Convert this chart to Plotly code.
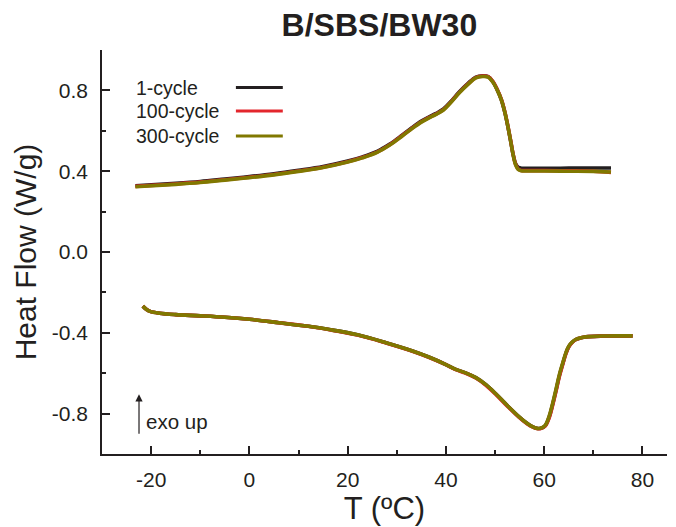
import plotly.graph_objects as go

# ---------------- data ----------------
series_names = ["1-cycle", "100-cycle", "300-cycle"]
series_colors = ["#231f20", "#e3262d", "#807800"]

# heating branch (upper curve)
heat_T = [-23.2, -15, -10, -5, 0, 5, 10, 15, 20, 23, 26, 28.5, 31, 33, 35, 36.5,
          38, 39.5, 41, 42.7, 44.5, 46.1, 47.5, 48.6, 49.5, 50.5, 51.3, 52.0,
          52.6, 53.2, 53.7, 54.2, 54.7, 55.3, 56.5, 60, 65, 70, 73.6]
heat_1 = [0.328, 0.340, 0.349, 0.361, 0.373, 0.387, 0.404, 0.423, 0.450, 0.471,
          0.498, 0.533, 0.577, 0.614, 0.648, 0.668, 0.686, 0.708, 0.745, 0.792,
          0.835, 0.866, 0.872, 0.868, 0.845, 0.800, 0.752, 0.690, 0.622, 0.545,
          0.480, 0.437, 0.420, 0.415, 0.414, 0.414, 0.415, 0.416, 0.416]
heat_100 = [0.325, 0.337, 0.346, 0.358, 0.370, 0.384, 0.401, 0.420, 0.447, 0.468,
            0.495, 0.530, 0.574, 0.611, 0.645, 0.665, 0.683, 0.705, 0.742, 0.789,
            0.832, 0.863, 0.871, 0.868, 0.846, 0.802, 0.755, 0.694, 0.626, 0.549,
            0.482, 0.433, 0.411, 0.404, 0.403, 0.403, 0.402, 0.400, 0.394]
heat_300 = [0.323, 0.335, 0.344, 0.356, 0.368, 0.382, 0.399, 0.418, 0.445, 0.466,
            0.493, 0.528, 0.572, 0.609, 0.643, 0.663, 0.681, 0.703, 0.740, 0.787,
            0.830, 0.862, 0.869, 0.866, 0.843, 0.799, 0.752, 0.691, 0.623, 0.546,
            0.479, 0.430, 0.409, 0.402, 0.401, 0.401, 0.400, 0.399, 0.396]

# cooling branch (lower curve)
cool_T = [-21.7, -21.0, -20.2, -18.3, -15, -10, -5, 0, 6, 12, 16.3, 22, 27.8,
          33.2, 36.5, 40, 42, 44, 46.1, 48.2, 50.2, 52.5, 54.9, 56.5, 57.6, 58.5,
          59.3, 60.2, 61.0, 61.7, 62.4, 63.1, 63.8, 64.4, 65.0, 65.7, 66.5, 67.5,
          68.5, 72, 75, 78]
cool_1 = [-0.268, -0.283, -0.294, -0.303, -0.310, -0.316, -0.323, -0.333, -0.350,
          -0.368, -0.384, -0.410, -0.449, -0.490, -0.520, -0.557, -0.581, -0.598,
          -0.622, -0.658, -0.703, -0.760, -0.816, -0.848, -0.865, -0.873, -0.873,
          -0.860, -0.818, -0.757, -0.686, -0.612, -0.552, -0.503, -0.469, -0.447,
          -0.433, -0.425, -0.420, -0.416, -0.415, -0.415]
cool_100 = [-0.268, -0.283, -0.294, -0.303, -0.310, -0.316, -0.323, -0.333, -0.350,
            -0.368, -0.385, -0.411, -0.450, -0.491, -0.521, -0.558, -0.582, -0.600,
            -0.624, -0.661, -0.706, -0.763, -0.819, -0.850, -0.866, -0.874, -0.874,
            -0.862, -0.822, -0.761, -0.690, -0.616, -0.555, -0.505, -0.470, -0.448,
            -0.433, -0.425, -0.420, -0.416, -0.415, -0.415]
cool_300 = [-0.268, -0.283, -0.294, -0.303, -0.310, -0.316, -0.323, -0.333, -0.350,
            -0.368, -0.384, -0.410, -0.449, -0.490, -0.520, -0.557, -0.581, -0.598,
            -0.622, -0.658, -0.703, -0.760, -0.816, -0.848, -0.865, -0.873, -0.872,
            -0.858, -0.813, -0.751, -0.680, -0.606, -0.547, -0.500, -0.466, -0.446,
            -0.432, -0.424, -0.420, -0.416, -0.415, -0.415]

x_tickvals = [-20, 0, 20, 40, 60, 80]
x_ticktext = ["-20", "0", "20", "40", "60", "80"]
x_minorvals = [-30, -10, 10, 30, 50, 70]
y_tickvals = [-0.8, -0.4, 0.0, 0.4, 0.8]
y_ticktext = ["-0.8", "-0.4", "0.0", "0.4", "0.8"]
y_minorvals = [-1.0, -0.6, -0.2, 0.2, 0.6, 1.0]

title_text = "B/SBS/BW30"
x_title = "T (ºC)"
y_title = "Heat Flow (W/g)"

# ---------------- figure ----------------
FONT = "Liberation Sans, Arial, sans-serif"
AX = "#231f20"

fig = go.Figure()
heat_sets = [heat_1, heat_100, heat_300]
cool_sets = [cool_1, cool_100, cool_300]
for name, col, hs, cs in zip(series_names, series_colors, heat_sets, cool_sets):
    fig.add_trace(go.Scatter(x=heat_T, y=hs, mode="lines", name=name,
                             line=dict(color=col, width=3.6, shape="spline", smoothing=1.0),
                             showlegend=False))
    fig.add_trace(go.Scatter(x=cool_T, y=cs, mode="lines", name=name,
                             line=dict(color=col, width=3.6, shape="spline", smoothing=1.0),
                             showlegend=False))

# legend (text on the left, line key on the right, as in the reference)
leg_y = [0.907, 0.849, 0.787]
for name, col, yy in zip(series_names, series_colors, leg_y):
    fig.add_annotation(x=0.057, y=yy, xref="paper", yref="paper", text=name,
                       showarrow=False, xanchor="left", yanchor="middle",
                       font=dict(family=FONT, size=19.5, color=AX))
    fig.add_shape(type="line", xref="paper", yref="paper", x0=0.237, x1=0.320,
                  y0=yy, y1=yy, line=dict(color=col, width=3))

# exo up arrow
fig.add_annotation(x=0.0655, y=0.148, xref="paper", yref="paper", text="",
                   showarrow=True, ax=0, ay=41, arrowhead=2, arrowsize=1.2,
                   arrowwidth=1.2, arrowcolor=AX)
fig.add_annotation(x=0.074, y=0.080, xref="paper", yref="paper", text="exo up",
                   showarrow=False, xanchor="left", yanchor="middle",
                   font=dict(family=FONT, size=20.5, color=AX))

fig.update_layout(
    width=676, height=527,
    margin=dict(l=102, r=9, t=50, b=67),
    paper_bgcolor="white", plot_bgcolor="white",
    title=dict(text="<b>" + title_text + "</b>", x=0.491, xref="paper",
               xanchor="center", y=0.953, yanchor="middle",
               font=dict(family=FONT, size=32, color=AX)),
    font=dict(family=FONT, color=AX),
    xaxis=dict(range=[-30, 85], showline=True, linecolor=AX, linewidth=1.5,
               showgrid=False, zeroline=False, mirror=False,
               ticks="inside", ticklen=8, tickwidth=1.5, tickcolor=AX,
               tickmode="array", tickvals=x_tickvals, ticktext=x_ticktext,
               tickfont=dict(family=FONT, size=21, color=AX),
               ticklabelstandoff=6,
               minor=dict(tickmode="array", tickvals=x_minorvals, ticks="inside",
                          ticklen=4, tickwidth=1.5, tickcolor=AX),
               title=dict(text=x_title, standoff=5,
                          font=dict(family=FONT, size=31, color=AX))),
    yaxis=dict(range=[-1.0, 1.0], showline=True, linecolor=AX, linewidth=1.5,
               showgrid=False, zeroline=False, mirror=False,
               ticks="inside", ticklen=8, tickwidth=1.5, tickcolor=AX,
               tickmode="array", tickvals=y_tickvals, ticktext=y_ticktext,
               tickfont=dict(family=FONT, size=21, color=AX),
               ticklabelstandoff=8,
               minor=dict(tickmode="array", tickvals=y_minorvals, ticks="inside",
                          ticklen=4, tickwidth=1.5, tickcolor=AX),
               title=dict(text=y_title, standoff=6,
                          font=dict(family=FONT, size=30, color=AX))),
)

fig.write_html("out.html")
